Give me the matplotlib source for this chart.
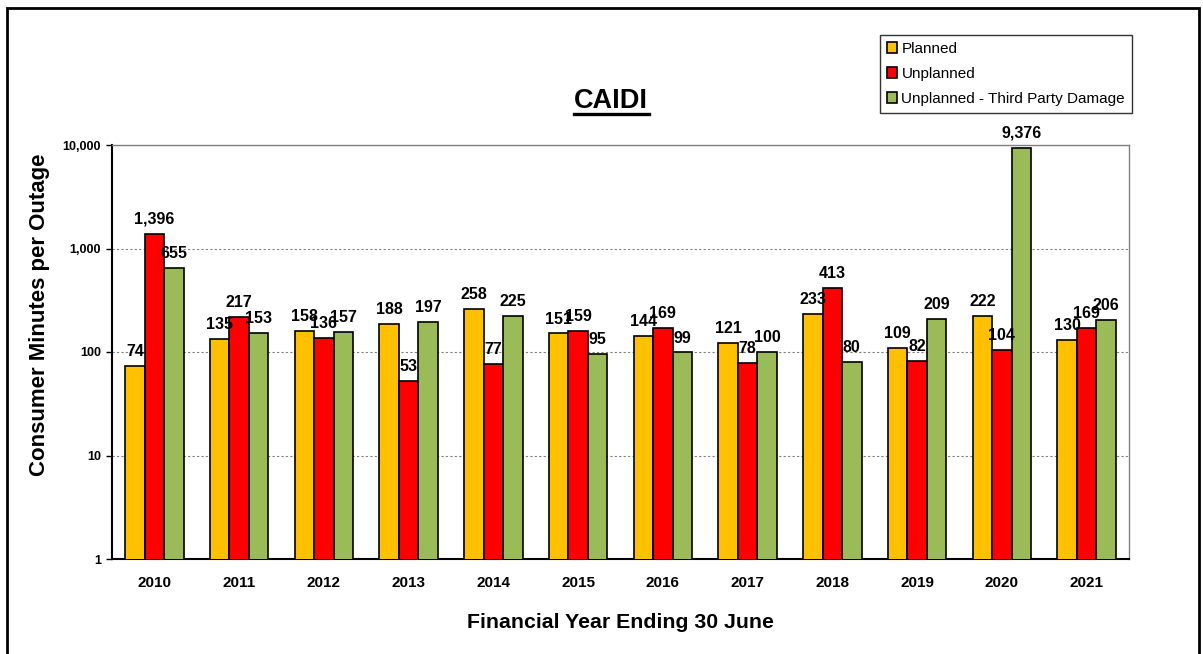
import matplotlib
matplotlib.use("Agg")
import matplotlib.pyplot as plt
import numpy as np
from matplotlib.patches import Rectangle
from matplotlib.ticker import FixedLocator, FuncFormatter, NullLocator

plt.rcParams['font.family'] = ['Liberation Sans', 'DejaVu Sans']

years = ['2010', '2011', '2012', '2013', '2014', '2015', '2016', '2017', '2018', '2019', '2020', '2021']
planned = [74, 135, 158, 188, 258, 151, 144, 121, 233, 109, 222, 130]
unplanned = [1396, 217, 136, 53, 77, 159, 169, 78, 413, 82, 104, 169]
third_party = [655, 153, 157, 197, 225, 95, 99, 100, 80, 209, 9376, 206]
series_names = ['Planned', 'Unplanned', 'Unplanned - Third Party Damage']
colors = ['#FFC000', '#FF0000', '#9BBB59']

W, H = 1203, 654
fig = plt.figure(figsize=(W / 100, H / 100), dpi=100)

# outer chart border
fig.patches.append(Rectangle((7 / W, -0.05), (1199 - 7) / W, 1 - 8 / H + 0.05,
                             transform=fig.transFigure, fill=False,
                             edgecolor='black', linewidth=2.0))

ax = fig.add_axes([112 / W, 1 - 559 / H, (1129 - 112) / W, (559 - 145) / H])
ax.set_yscale('log')
ax.set_ylim(1, 10000)

x = np.arange(len(years))
bw = 0.23
for i, (vals, col, name) in enumerate(zip([planned, unplanned, third_party], colors, series_names)):
    pos = x + (i - 1) * bw
    bars = ax.bar(pos, vals, width=bw, color=col, edgecolor='black', linewidth=1.2,
                  label=name, zorder=3)
    for b, v in zip(bars, vals):
        ax.annotate(f'{v:,}', (b.get_x() + b.get_width() / 2, v),
                    xytext=(0, 5), textcoords='offset points',
                    ha='center', va='bottom', fontsize=11.5, fontweight='bold', zorder=4)

ax.set_xlim(-0.5, len(years) - 0.5)
ax.set_xticks(x)
ax.set_xticklabels(years, fontsize=11, fontweight='bold')
ax.tick_params(axis='x', length=0, pad=12)

ax.yaxis.set_major_locator(FixedLocator([1, 10, 100, 1000, 10000]))
ax.yaxis.set_minor_locator(NullLocator())
ax.yaxis.set_major_formatter(FuncFormatter(lambda v, p: f'{int(round(v)):,}'))
ax.tick_params(axis='y', length=4, width=1, pad=4, labelsize=9)
for lab in ax.get_yticklabels():
    lab.set_fontweight('bold')

ax.grid(axis='y', which='major', linestyle=(0, (2, 2)), color='#808080', linewidth=0.8, zorder=0)

for side in ['top', 'right']:
    ax.spines[side].set_color('#808080')
    ax.spines[side].set_linewidth(1.0)
for side in ['left', 'bottom']:
    ax.spines[side].set_color('black')
    ax.spines[side].set_linewidth(1.5)

fig.text(611 / W, 1 - 101 / H, 'CAIDI', ha='center', va='center',
         fontsize=19.5, fontweight='bold')
# underline for the title
fig.add_artist(plt.Line2D([574 / W, 649 / W], [1 - 114 / H, 1 - 114 / H],
                          color='black', linewidth=2.4, transform=fig.transFigure))

fig.text(620 / W, 1 - 622 / H, 'Financial Year Ending 30 June', ha='center', va='center',
         fontsize=15.3, fontweight='bold')
fig.text(40 / W, 1 - 315 / H, 'Consumer Minutes per Outage', ha='center', va='center',
         rotation=90, fontsize=16, fontweight='bold')

leg = fig.legend(loc='upper left', bbox_to_anchor=(880 / W, 1 - 35 / H),
                 frameon=True, fancybox=False, fontsize=11,
                 handlelength=0.65, handleheight=0.65, handletextpad=0.3,
                 labelspacing=0.72, borderpad=0.45, borderaxespad=0)
leg.get_frame().set_edgecolor('black')
leg.get_frame().set_linewidth(1.0)

fig.savefig('out.png', dpi=100)
